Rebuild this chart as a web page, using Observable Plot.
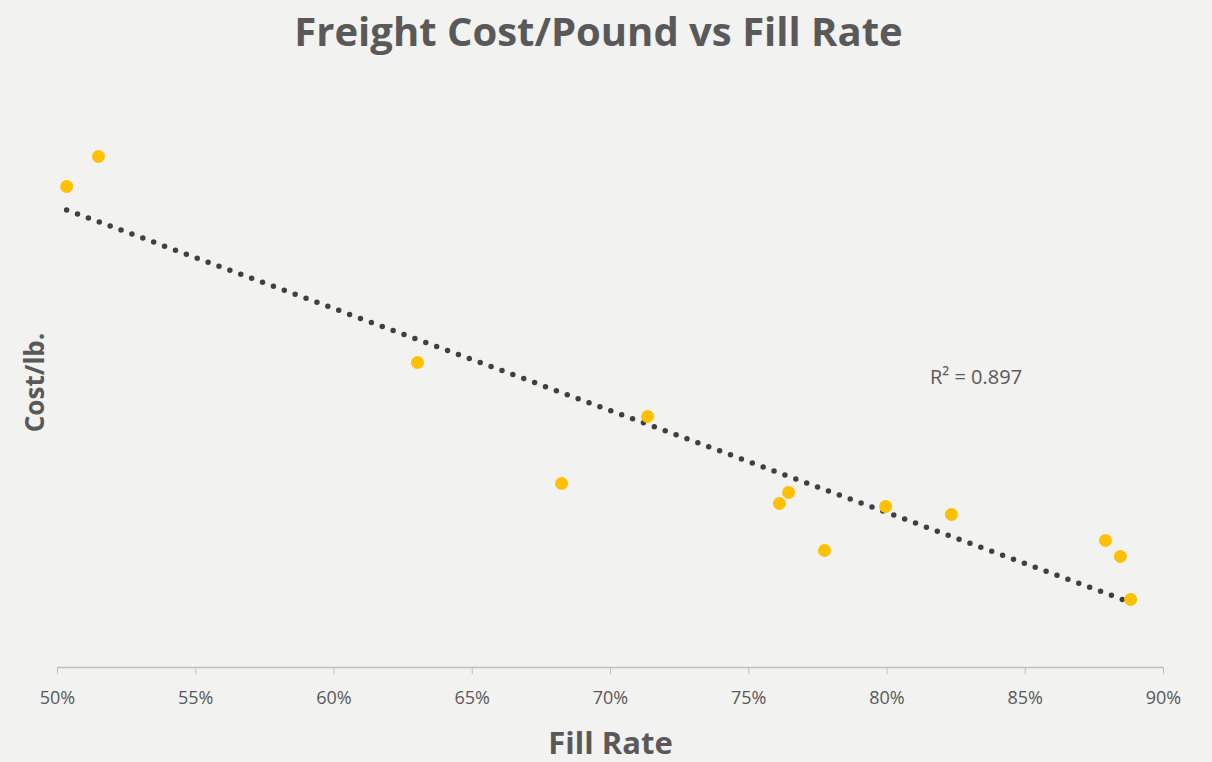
<!DOCTYPE html>
<html>
<head>
<meta charset="utf-8">
<script src="https://cdn.jsdelivr.net/npm/d3@7"></script>
<script src="https://cdn.jsdelivr.net/npm/@observablehq/plot@0.6"></script>
<style>
  html, body { margin: 0; padding: 0; background: #f2f2f1; }
  #chart { width: 1212px; height: 762px; overflow: hidden; }
</style>
</head>
<body>
<div id="chart"></div>
<script>
// Fill rate (fraction) per observation
const fillRate = [0.5033, 0.5148, 0.6302, 0.6823, 0.7134, 0.7611, 0.7644, 0.7774, 0.7995, 0.8233, 0.8790, 0.8844, 0.8881];
// Freight cost per pound (relative units, axis unlabelled in source)
const costPerLb = [0.2405, 0.2555, 0.1525, 0.0920, 0.1255, 0.0820, 0.0875, 0.0585, 0.0805, 0.0765, 0.0635, 0.0555, 0.0340];
const xTicks = [0.50, 0.55, 0.60, 0.65, 0.70, 0.75, 0.80, 0.85, 0.90];
const titleText = "Freight Cost/Pound vs Fill Rate";
const xLabel = "Fill Rate";
const yLabel = "Cost/lb.";
const r2Label = "R² = 0.897";
const r2Pos = {x: 0.8322, y: 0.145};

const data = fillRate.map((x, i) => ({x, y: costPerLb[i]}));
const font = "'Open Sans', Lato, sans-serif";
const grey = "#595959";

const chart = Plot.plot({
  width: 1212,
  height: 762,
  marginLeft: 57,
  marginRight: 49,
  marginTop: 67,
  marginBottom: 95,
  style: {background: "transparent", fontFamily: font, color: grey},
  x: {domain: [0.5, 0.9]},
  y: {domain: [0, 0.30], axis: null},
  marks: [
    Plot.ruleY([0], {stroke: "#bfbfbf", strokeWidth: 1.5}),
    Plot.axisX({ticks: xTicks, tickFormat: d3.format(".0%"), tickSize: 7, tickPadding: 17,
      stroke: "#bfbfbf", fill: grey, fontSize: 18, label: null}),
    Plot.linearRegressionY(data, {x: "x", y: "y", ci: 0, stroke: "#404040", strokeWidth: 5.5,
      strokeDasharray: "0,11.6", strokeLinecap: "round"}),
    Plot.dot(data, {x: "x", y: "y", r: 6.5, fill: "#FFC000", stroke: "none"}),
    Plot.text([r2Label], {x: r2Pos.x, y: r2Pos.y, text: d => d, fontSize: 20, fill: grey}),
    Plot.text([titleText], {frameAnchor: "top", dx: -12, dy: -50, text: d => d, fontSize: 40, fontWeight: "bold", fill: grey}),
    Plot.text([xLabel], {frameAnchor: "bottom", dy: 86, text: d => d, fontSize: 31, fontWeight: "bold", fill: grey}),
    Plot.text([yLabel], {frameAnchor: "left", textAnchor: "middle", dx: -22, dy: 15, rotate: -90, text: d => d, fontSize: 26, fontWeight: "bold", fill: grey})
  ]
});
document.getElementById("chart").appendChild(chart);
</script>
</body>
</html>
